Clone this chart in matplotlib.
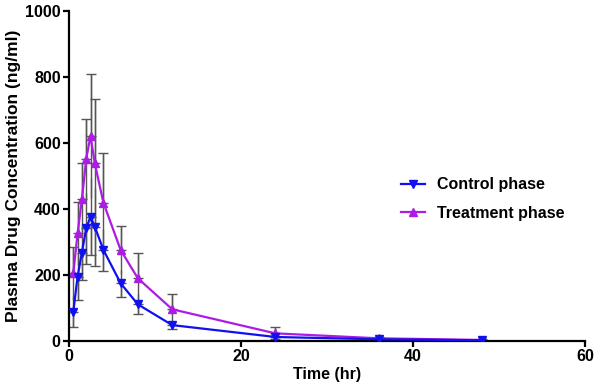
import matplotlib
matplotlib.use("Agg")
import matplotlib.pyplot as plt
import numpy as np

plt.rcParams['font.family'] = ['Liberation Sans', 'DejaVu Sans']

time_hr = [0.5, 1, 1.5, 2, 2.5, 3, 4, 6, 8, 12, 24, 36, 48]
control_mean = [89, 195, 268, 341, 377, 346, 276, 175, 111, 48, 12, 5, 2]
control_sd = [46, 71, 83, 108, 117, 119, 63, 41, 30, 13, 5, 2, 1]
treatment_mean = [205, 326, 429, 551, 621, 538, 419, 276, 190, 96, 23, 8, 3]
treatment_sd = [81, 96, 109, 121, 188, 194, 150, 72, 78, 46, 20, 3, 2]

x_ticks = [0, 20, 40, 60]
y_ticks = [0, 200, 400, 600, 800, 1000]

fig = plt.figure(figsize=(6, 3.91), dpi=100)
ax = fig.add_axes([0.115, 0.128, 0.86, 0.844])

t = np.array(time_hr)
cm, cs = np.array(control_mean), np.array(control_sd)
tm, ts = np.array(treatment_mean), np.array(treatment_sd)

err_col = '#555555'
ax.errorbar(t, tm, yerr=ts, fmt='none', ecolor=err_col, elinewidth=1, capsize=0, zorder=1)
ax.errorbar(t, cm, yerr=cs, fmt='none', ecolor=err_col, elinewidth=1, capsize=0, zorder=1)
ax.errorbar(t, tm, yerr=[np.zeros_like(ts), ts], fmt='none', ecolor=err_col,
            elinewidth=1, capsize=3.5, capthick=1, zorder=1)
ax.errorbar(t, cm, yerr=[cs, np.zeros_like(cs)], fmt='none', ecolor=err_col,
            elinewidth=1, capsize=3.5, capthick=1, zorder=1)

blue = '#1010F0'
purple = '#AC1CE4'
ax.plot(t, cm, color=blue, lw=1.6, marker='v', ms=6, label='Control phase', zorder=3)
ax.plot(t, tm, color=purple, lw=1.6, marker='^', ms=6, label='Treatment phase', zorder=2)

ax.set_xlim(0, 60)
ax.set_ylim(0, 1000)
ax.set_xticks(x_ticks)
ax.set_yticks(y_ticks)
for s in ['top', 'right']:
    ax.spines[s].set_visible(False)
for s in ['left', 'bottom']:
    ax.spines[s].set_linewidth(1.6)
ax.tick_params(axis='both', width=1.6, length=4, labelsize=11.5, direction='out', pad=2)
for lab in ax.get_xticklabels() + ax.get_yticklabels():
    lab.set_fontweight('bold')

ax.set_xlabel('Time (hr)', fontsize=11.5, fontweight='bold', labelpad=2)
ax.set_ylabel('Plasma Drug Concentration (ng/ml)', fontsize=12.5, fontweight='bold', labelpad=3)

leg = ax.legend(loc='upper left', bbox_to_anchor=(0.615, 0.54), frameon=False,
                prop={'weight': 'bold', 'size': 11.5}, handlelength=1.5,
                handletextpad=0.8, labelspacing=0.85)

fig.savefig('out.png', dpi=100)
